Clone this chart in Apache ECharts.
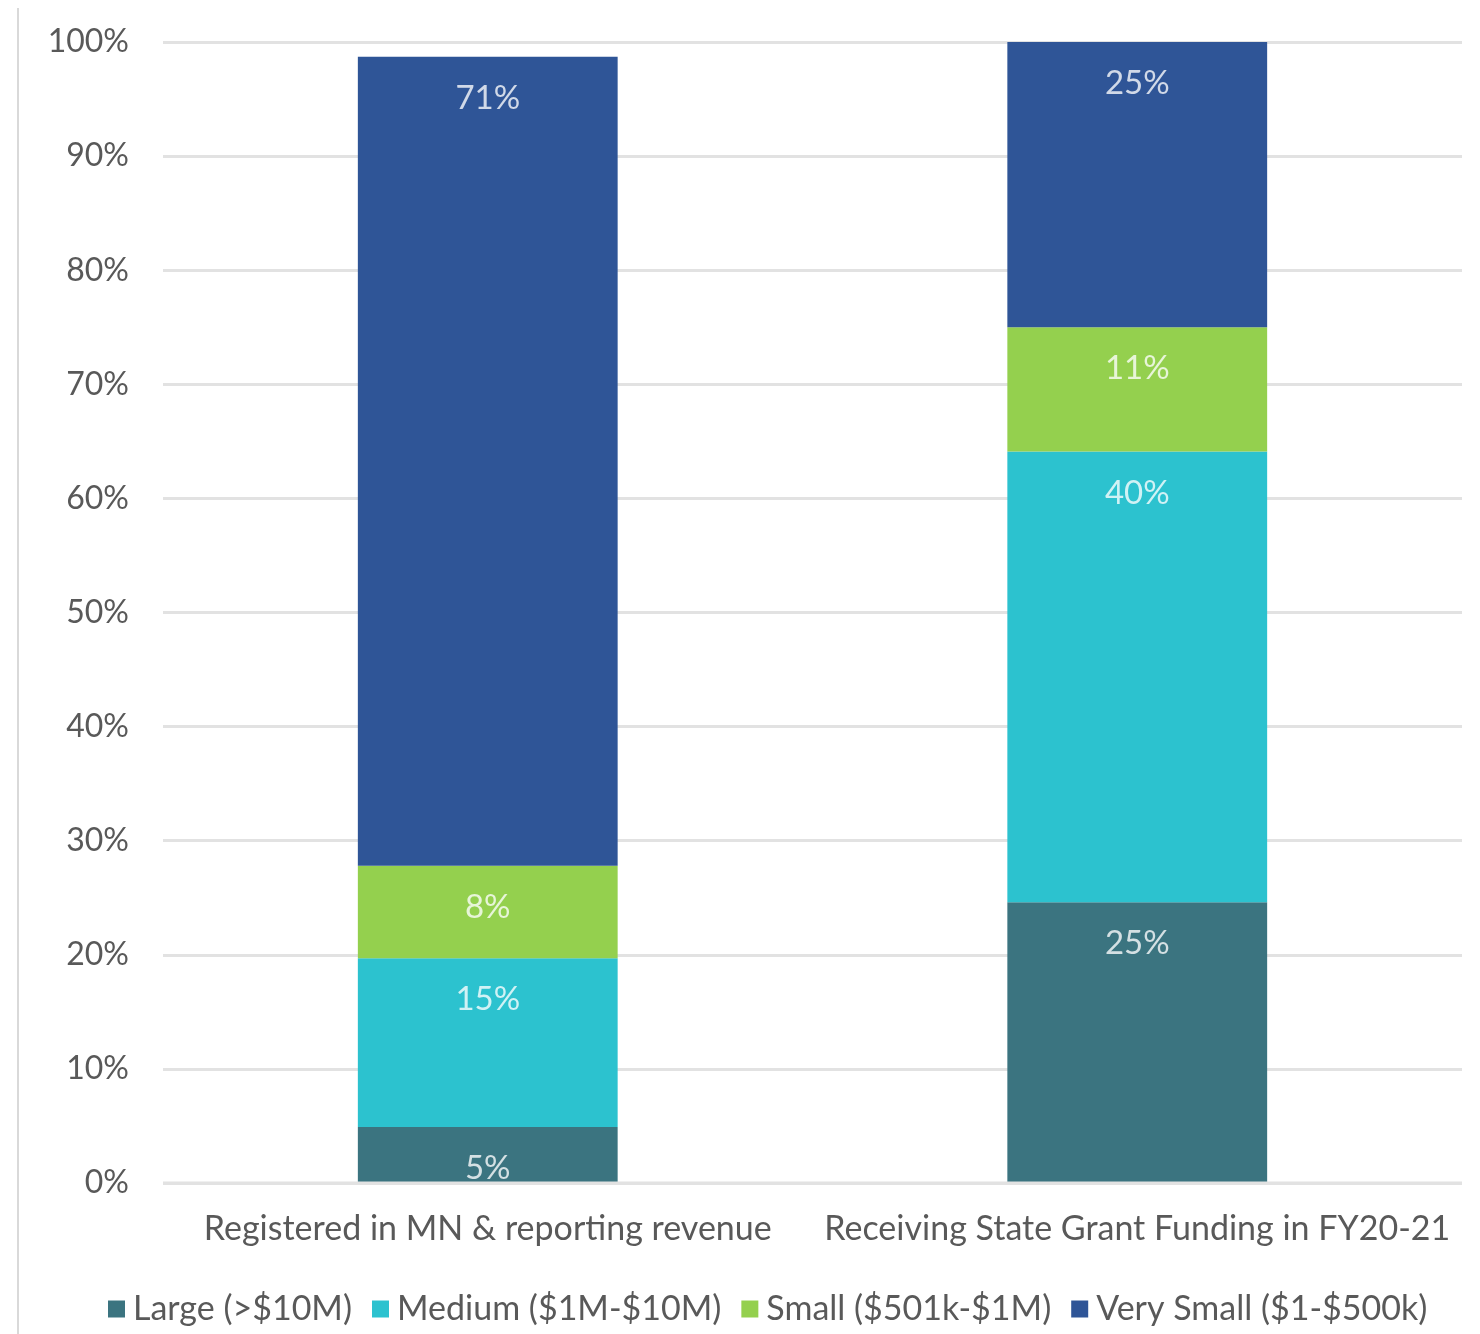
<!DOCTYPE html>
<html><head><meta charset="utf-8">
<style>html,body{margin:0;padding:0;background:#fff}#c{width:1480px;height:1334px}</style>
<script src="https://cdn.jsdelivr.net/npm/echarts@6/dist/echarts.min.js"></script>
</head><body><div id="c"></div>
<script>
const categories = ['Registered in MN & reporting revenue', 'Receiving State Grant Funding in FY20-21'];
const seriesNames = ['Large (>$10M)', 'Medium ($1M-$10M)', 'Small ($501k-$1M)', 'Very Small ($1-$500k)'];
const large = [4.9, 24.6];
const medium = [14.8, 39.5];
const small = [8.1, 10.9];
const verySmall = [70.9, 25.0];
const colors = ['#3b7480', '#2cc2cf', '#94d04e', '#2f5597'];
const yTicks = [0, 10, 20, 30, 40, 50, 60, 70, 80, 90, 100];

const FONT = 'Lato, "Liberation Sans", sans-serif';
const chart = echarts.init(document.getElementById('c'));
const datasets = [large, medium, small, verySmall];
const option = {
  animation: false,
  color: colors,
  textStyle: {fontFamily: FONT},
  grid: {left: 163, right: 18, top: 42, bottom: 151, containLabel: false},
  legend: {
    bottom: 3, left: 103, itemWidth: 17, itemHeight: 17, itemGap: 20,
    icon: 'rect',
    textStyle: {fontSize: 34, color: '#595959', fontFamily: FONT, padding: [0, 0, 0, 3]},
    data: seriesNames
  },
  xAxis: {
    type: 'category', data: categories,
    axisLine: {show: false}, axisTick: {show: false},
    axisLabel: {fontSize: 34, color: '#595959', margin: 29, fontFamily: FONT, interval: 0}
  },
  yAxis: {
    type: 'value', min: 0, max: 100, interval: 10,
    axisLabel: {fontSize: 32, color: '#595959', margin: 34, fontFamily: FONT,
      formatter: v => yTicks.includes(v) ? v + '%' : ''},
    splitLine: {lineStyle: {color: '#e2e2e2', width: 3}},
    axisLine: {show: false}, axisTick: {show: false}
  },
  graphic: [{
    type: 'line', shape: {x1: 18, y1: 8, x2: 18, y2: 1334},
    style: {stroke: '#d9d9d9', lineWidth: 2}
  }],
  series: datasets.map((d, i) => ({
    name: seriesNames[i], type: 'bar', stack: 'total', barWidth: '40%',
    data: d,
    itemStyle: {borderWidth: 0},
    label: {
      show: true, position: 'insideTop', distance: 25,
      fontSize: 33, color: 'rgba(255,255,255,0.78)', fontFamily: FONT,
      formatter: p => Math.round(p.value) + '%'
    }
  }))
};
chart.setOption(option);
const y0 = chart.convertToPixel({yAxisIndex: 0}, 0);
chart.setOption({graphic: [option.graphic[0], {
  type: 'rect', z: 1000, shape: {x: 163, y: y0 + 2, width: 1299, height: 18},
  style: {fill: '#fff'}
}, {
  type: 'line', z: 1001, shape: {x1: 163, y1: y0, x2: 1462, y2: y0},
  style: {stroke: '#e2e2e2', lineWidth: 3}
}]});
</script></body></html>
